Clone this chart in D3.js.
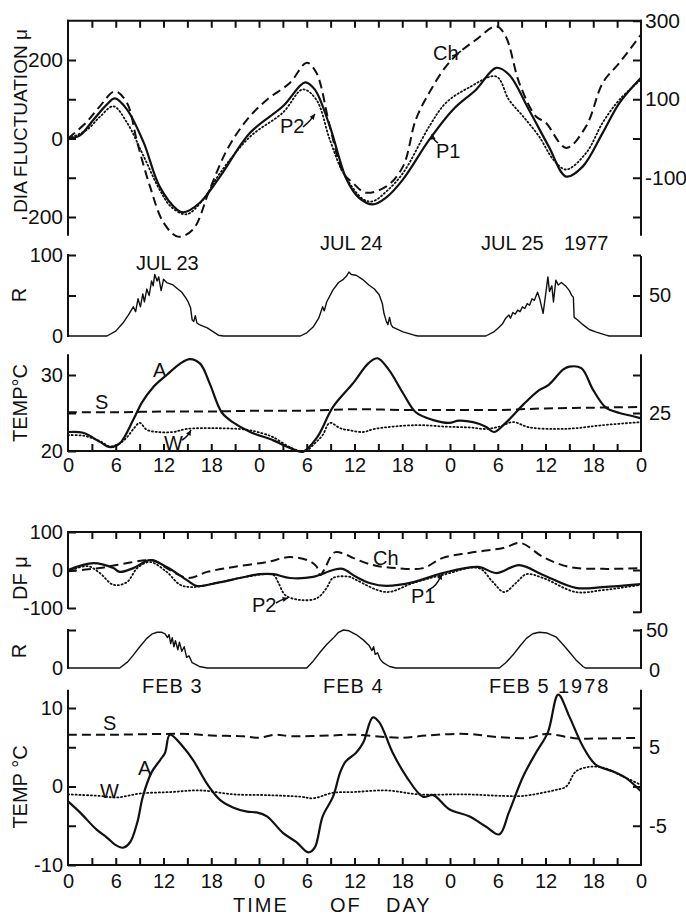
<!DOCTYPE html>
<html><head><meta charset="utf-8">
<script src="https://cdn.jsdelivr.net/npm/d3@7"></script>
<style>body{margin:0;background:#fff} svg{display:block}</style>
</head><body><svg id="c" width="686" height="915"></svg>
<script>
// ---------------- DATA ----------------
const hourTicks = d3.range(0, 73, 3);
const hourLabels = ["0","6","12","18","0","6","12","18","0","6","12","18","0"];

// July 1977 — dia fluctuation (μ)  [hour, value]
const julP1 = [[0,0],[1.5,8],[3.2,48],[4.9,87],[5.9,102],[7.4,74],[9.5,-10],[11.5,-122],[13.7,-181],[14.5,-188],[16.6,-163],[19.1,-97],[22.9,15],[27,82],[29.8,143],[31,125],[32.9,31],[35,-104],[36.5,-150],[38.3,-168],[40,-150],[42.1,-104],[45.4,-3],[48.4,74],[51.3,125],[53.8,180],[55.4,163],[57.9,74],[60.4,-20],[62.6,-97],[64.7,-71],[67.2,15],[69.3,91],[72,155]];
const julCh = [[0,0],[2.3,41],[4,82],[5.9,120],[7.4,91],[8.7,-10],[10.3,-122],[12,-214],[13.8,-250],[15.7,-232],[17.8,-130],[20,-28],[22.5,48],[25,99],[27.9,142],[30,193],[31.2,168],[32.9,31],[34.6,-88],[35.8,-113],[37.4,-138],[40,-122],[42.1,-71],[43.7,48],[45.4,117],[47.5,184],[49.1,218],[51.3,252],[53.8,286],[55,260],[56.7,142],[58.8,56],[60,41],[62.6,-24],[65.1,31],[67.2,142],[69.3,193],[72,265]];
const julP2 = [[0,0],[2.3,21],[4,55],[5.7,82],[7.4,41],[9.5,-45],[11.5,-130],[13,-175],[14.9,-193],[17,-155],[19.1,-88],[22.9,5],[27,66],[29.5,125],[31.2,99],[32.9,-3],[34.6,-88],[37.1,-155],[38.3,-160],[40,-135],[42.1,-88],[45.4,31],[47.5,91],[50.4,130],[53.8,158],[55.4,99],[57.2,56],[59.2,5],[61,-54],[62.6,-79],[65.1,-37],[67.2,41],[69.3,99],[72,150]];
// July radiation R
const julR = [[0,0],[4.9,0],[6,6],[6.9,16],[7.6,26],[8.2,36],[8.5,30],[8.8,46],[9.1,36],[9.4,52],[9.6,42],[9.9,58],[10.2,50],[10.5,68],[10.7,62],[10.9,76],[11.2,68],[11.4,73],[11.7,56],[12.0,70],[12.4,66],[13.2,63],[13.8,58],[14.3,54],[14.8,47],[15.1,42],[15.4,35],[15.6,20],[15.8,18],[16.0,25],[16.2,16],[16.5,14],[17.5,10],[18.9,1],[19.5,0],[29.2,0],[30,4],[30.8,11],[31.5,22],[32,36],[32.2,31],[32.5,42],[33.3,57],[34,66],[34.6,70],[35.0,74],[35.3,79],[35.6,76],[36.2,75],[37,70],[37.8,63],[38.5,58],[39.1,51],[39.5,40],[39.7,28],[40.0,18],[40.2,14],[40.4,23],[40.6,14],[40.8,11],[42.1,5],[43.5,1],[44,0],[52.5,0],[53.5,5],[54.2,11],[54.6,15],[55,22],[55.4,26],[55.6,22],[55.9,29],[56.2,27],[56.5,32],[56.8,30],[57.1,36],[57.4,34],[57.7,40],[58.0,38],[58.3,46],[58.6,44],[59.0,54],[59.3,45],[59.7,28],[60.0,50],[60.3,73],[60.5,55],[60.8,62],[61.0,42],[61.3,69],[61.6,63],[62,66],[62.6,61],[63.0,56],[63.3,50],[63.5,48],[63.6,23],[64,20],[64.7,14],[65.5,8],[66.3,5],[67.6,1],[68,0],[72,0]];
// July temperatures (°C)
const julA = [[0,22.5],[1.9,22.4],[4,21.2],[5.3,20.5],[6.5,21],[8.2,24.1],[9.3,26.4],[10.7,28.4],[12.4,30],[14.1,31.5],[15.3,32.1],[16.6,31.5],[17.8,28.9],[19.3,25.1],[20.7,23.8],[22.9,22.5],[25.8,21.4],[27.9,20.4],[29.5,19.9],[31.3,21.8],[33.3,25.8],[35.8,28.9],[37.8,31.6],[38.9,32.2],[40.3,30.7],[42.1,27.6],[43.7,25.1],[45.8,24.1],[47.9,23.7],[49.1,24],[50.9,23.8],[52.5,23.2],[53.5,22.5],[55,23.7],[57.2,26.1],[59.2,28],[60.4,28.7],[62.2,30.7],[63,31.1],[64.5,30.9],[66,28],[67.6,25.7],[69.3,25],[70.5,24.7],[72,24.3]];
const julS = [[0,25.1],[6,25.1],[12,25.2],[18,25.2],[24,25.3],[30,25.3],[36,25.5],[42,25.4],[48,25.4],[54,25.4],[60,25.6],[66,25.7],[72,25.8]];
const julW = [[0,22.1],[2,22],[4,21.3],[5.3,20.6],[6.5,21],[7.4,21.8],[8.3,23],[9,23.7],[9.9,22.8],[11.2,22.5],[13.2,22.5],[14.9,22.9],[18.7,23],[22.4,22.8],[24.5,22.3],[25.8,21.8],[27.9,20.5],[29.7,19.9],[31,21],[32,22.1],[32.9,23.7],[34.2,23],[35.5,22.7],[37.1,22.5],[38.5,22.9],[43.7,23.4],[47.5,23.2],[50.4,23.1],[52.5,22.9],[54.2,23.2],[55.9,23.8],[58,23.1],[61.3,22.9],[63.8,23],[67.2,23.4],[72,23.8]];

// February 1978 — DF (μ)
const febP1 = [[0,0],[3.2,18],[5.7,5],[6.5,-5],[8.2,5],[10.3,26],[12.4,8],[14.9,-26],[16.2,-42],[18.7,-34],[21.6,-21],[24.1,-11],[25.8,-11],[27.9,-21],[30.8,-18],[33.3,0],[34.5,3],[36.2,-18],[38,-35],[40,-42],[43.4,-32],[47.1,-8],[51.6,8],[53.8,-8],[56.7,13],[59.7,-13],[63.8,-47],[67.2,-45],[72,-37]];
const febCh = [[0,-3],[4,5],[6.1,13],[9.9,26],[11,24],[12.4,5],[15.1,-21],[17.5,-5],[20.8,8],[25,21],[27.9,34],[30.3,24],[31.2,10],[31.7,-13],[32.3,5],[33,35],[33.6,47],[35,40],[35.8,32],[38.3,13],[41.2,5],[44.6,5],[47.1,32],[50.4,45],[54.7,58],[56.9,71],[59.7,34],[63,8],[67.2,3],[72,5]];
const febP2 = [[0,-3],[2.5,10],[4,-8],[5.7,-39],[7.4,-32],[8.7,5],[10.3,21],[12.4,-5],[14.1,-39],[15.7,-45],[18.7,-34],[22.9,-16],[25.8,-13],[26.4,-32],[27.3,-66],[29.2,-79],[31.3,-74],[32.5,-47],[33.3,-21],[35.4,-18],[36.2,-26],[40,-58],[43.4,-34],[47.1,-13],[51.6,5],[53.4,-32],[54.8,-58],[56.3,-34],[57.6,-11],[59.7,-21],[63.8,-58],[67.2,-53],[72,-39]];
// February radiation R
const febR = [[0,0],[6.5,0],[7.5,8],[8.2,17],[9.1,29],[9.9,39],[10.6,45],[11.2,47],[11.8,47],[12.2,45],[12.5,40],[12.7,44],[12.9,32],[13.1,40],[13.3,28],[13.5,36],[13.8,24],[14.0,34],[14.3,22],[14.6,28],[14.9,14],[15.2,16],[15.6,7],[16.5,2],[17.5,0],[30,0],[30.8,9],[31.7,21],[32.5,31],[33.3,39],[34.0,47],[34.6,50],[35.3,49],[36.2,44],[37.1,37],[37.8,30],[38.2,23],[38.4,28],[38.6,18],[38.9,20],[39.2,12],[39.6,7],[40.4,2],[41.2,0],[54.2,0],[55,7],[55.9,17],[56.8,29],[57.6,39],[58.4,45],[59.2,47],[60.2,46],[61.3,41],[62.2,31],[63,21],[63.8,11],[64.7,2],[65,0],[72,0]];
// February temperatures (°C)
const febA = [[0,-1.9],[1.5,-3.3],[3.6,-5.5],[4.9,-6.5],[5.9,-7.4],[6.9,-7.8],[7.8,-7.1],[8.7,-4.6],[9.4,-1.3],[10.5,1.8],[11.6,3.4],[12.2,4.3],[12.8,6.6],[14.5,5],[15.7,3.4],[17.5,0.3],[19.1,-1.7],[20.8,-2.7],[22.5,-3.2],[23.7,-3.3],[25,-3.8],[27,-5.9],[28.7,-7.1],[30.2,-8.4],[31,-7.8],[32,-3.8],[33.3,-1.3],[34.2,1.8],[34.9,3.2],[36.2,4.3],[37.1,5.6],[38.3,8.8],[39.1,8.2],[40.8,4.3],[42.5,1.3],[44.6,-1.3],[45.9,-1.1],[47.9,-2.9],[50.4,-3.8],[52.5,-5.1],[54.2,-6.1],[55.4,-3.3],[57.2,1.3],[58.8,4.3],[60.3,6.9],[61.6,11.7],[63,8.9],[64.7,5.1],[66.3,2.8],[68.5,1.9],[70.1,1.1],[71.8,-0.4],[72,-0.6]];
const febS = [[0,6.6],[6,6.6],[12,6.7],[15,6.7],[18,6.5],[22,6.4],[24,6.2],[26,6.6],[28,6.4],[33,6.5],[36,6.6],[42,6.2],[45,6.5],[50,6.7],[54,6.3],[58,6.2],[60,6.7],[64,6.1],[66,6.1],[72,6.2]];
const febW = [[0,-1],[4,-1.2],[6.1,-1.4],[9,-0.9],[13,-0.7],[16.6,-0.5],[20.8,-1],[25,-1.1],[29.2,-1.3],[30.8,-1.5],[33.3,-0.8],[36,-0.7],[40,-0.5],[44.1,-1],[50,-1],[54.7,-1.2],[57.2,-1.2],[61,-0.5],[62.6,0],[63.8,1.9],[65.5,2.5],[67.2,2.4],[69.7,1.3],[71.8,0.3],[72,0.2]];

// ---------------- DRAWING ----------------
const INK = "#111";
const FONT = '"Liberation Sans", Arial, sans-serif';
const svg = d3.select("#c").style("font-family", FONT);

const x = d3.scaleLinear().domain([0, 72]).range([68, 641]);
const XL = x(0), XR = x(72);

const yDia = d3.scaleLinear().domain([-200, 200]).range([217, 60]);
const yR1 = d3.scaleLinear().domain([0, 100]).range([336, 255]);
const yT1 = d3.scaleLinear().domain([20, 30]).range([451, 375]);
const yDF = d3.scaleLinear().domain([-100, 100]).range([608, 532]);
const yR2 = d3.scaleLinear().domain([0, 50]).range([668, 630]);
const yT2 = d3.scaleLinear().domain([-10, 10]).range([865, 708]);

function vline(xp, y0, y1) {
  svg.append("line").attr("x1", xp).attr("x2", xp).attr("y1", y0).attr("y2", y1)
    .attr("stroke", INK).attr("stroke-width", 2).attr("stroke-linecap", "square");
}
function hline(yp) {
  svg.append("line").attr("x1", XL).attr("x2", XR).attr("y1", yp).attr("y2", yp)
    .attr("stroke", INK).attr("stroke-width", 2).attr("stroke-linecap", "square");
}
function styleAxis(g, fs) {
  g.select(".domain").remove();
  g.selectAll(".tick line").attr("stroke", INK).attr("stroke-width", 2);
  g.selectAll(".tick text").attr("fill", INK).attr("font-size", fs).attr("font-family", FONT);
}
function leftAxis(scale, ticks, labels, top, bottom, fs = 20) {
  const g = svg.append("g").attr("transform", `translate(${XL},0)`)
    .call(d3.axisLeft(scale).tickValues(ticks).tickSizeInner(-8).tickSizeOuter(0).tickPadding(5)
      .tickFormat(d => labels.includes(d) ? String(d) : ""));
  styleAxis(g, fs);
  vline(XL, scale(top), scale(bottom));
  return g;
}
function rightAxis(scale, ticks, labels, top, bottom, fs = 20, pad = 7) {
  const g = svg.append("g").attr("transform", `translate(${XR},0)`)
    .call(d3.axisRight(scale).tickValues(ticks).tickSizeInner(-8).tickSizeOuter(0).tickPadding(pad)
      .tickFormat(d => labels.includes(d) ? String(d) : ""));
  styleAxis(g, fs);
  vline(XR, scale(top), scale(bottom));
  return g;
}
function topBorder(yp) {
  const g = svg.append("g").attr("transform", `translate(0,${yp})`)
    .call(d3.axisTop(x).tickValues(hourTicks.slice(1, -1)).tickSizeInner(-7).tickSizeOuter(0).tickFormat(""));
  styleAxis(g, 10);
  hline(yp);
}
function bottomAxis(yp, pad) {
  const g = svg.append("g").attr("transform", `translate(0,${yp})`)
    .call(d3.axisBottom(x).tickValues(hourTicks).tickSizeInner(-7).tickSizeOuter(0).tickPadding(pad)
      .tickFormat((d) => d % 6 === 0 ? hourLabels[d / 6] : ""));
  styleAxis(g, 20);
  g.selectAll(".tick").filter(d => d === 0 || d === 72).select("line").remove();
  hline(yp);
}

const smooth = d3.curveCatmullRom.alpha(0.5);
function series(data, yScale, style, curve = smooth) {
  const line = d3.line().x(d => x(d[0])).y(d => yScale(d[1])).curve(curve);
  const p = svg.append("path").datum(data).attr("d", line).attr("fill", "none")
    .attr("stroke", INK).attr("stroke-linejoin", "round");
  if (style === "solid") p.attr("stroke-width", 2.2);
  if (style === "dash") p.attr("stroke-width", 2).attr("stroke-dasharray", "9,5");
  if (style === "dot") p.attr("stroke-width", 1.8).attr("stroke-dasharray", "1.2,2.6").attr("stroke-linecap", "round");
  if (style === "thin") p.attr("stroke-width", 1.4);
}
function label(txt, xp, yp, fs = 20, anchor = "start", ls = 0) {
  svg.append("text").attr("x", xp).attr("y", yp).attr("font-size", fs).attr("text-anchor", anchor)
    .attr("letter-spacing", ls).attr("fill", INK).text(txt);
}
function vlabel(txt, xp, yc, fs = 20, ls = 0) {
  svg.append("text").attr("transform", `translate(${xp},${yc}) rotate(-90)`).attr("font-size", fs)
    .attr("text-anchor", "middle").attr("letter-spacing", ls).attr("fill", INK).text(txt);
}
function leader(pts, arrow) {
  svg.append("path").attr("d", d3.line().curve(d3.curveBasis)(pts)).attr("fill", "none")
    .attr("stroke", INK).attr("stroke-width", 1.5);
  if (arrow) {
    const [a, b] = [pts[pts.length - 2], pts[pts.length - 1]];
    const ang = Math.atan2(b[1] - a[1], b[0] - a[0]);
    const L = 6, w = 0.45;
    svg.append("path").attr("d", `M${b[0]},${b[1]}L${b[0] - L * Math.cos(ang - w)},${b[1] - L * Math.sin(ang - w)}L${b[0] - L * Math.cos(ang + w)},${b[1] - L * Math.sin(ang + w)}Z`)
      .attr("fill", INK);
  }
}

// ===== Panel 1: DIA fluctuation (July) =====
topBorder(yDia(300));
leftAxis(yDia, [200, 100, 0, -100, -200], [200, 0, -200], 300, -245, 21);
rightAxis(yDia, [300, 200, 100, 0, -100, -200], [300, 100, -100], 300, -245, 21, 4);
series(julP2, yDia, "dot");
series(julCh, yDia, "dash");
series(julP1, yDia, "solid");
vlabel("DIA FLUCTUATION μ", 27, 121, 19);
label("Ch", 433, 60, 20);
leader([[452, 56], [456, 55], [461, 51]]);
label("P2", 280, 133, 20);
leader([[303, 127], [309, 122], [315, 114]], true);
label("P1", 436, 158, 20);
leader([[438, 143], [433, 139], [432, 134]], true);

// date labels July
label("JUL 23", 136, 270, 20);
label("JUL 24", 320, 250, 20);
label("JUL 25", 481, 250, 20);
label("1977", 564, 250, 20);

// ===== Panel 2: R (July) =====
leftAxis(yR1, [100, 50], [100], 100, 0, 20);
label("0", 63, yR1(0) + 7, 20, "end");
rightAxis(yR1, [100, 50], [50], 97.5, 0, 20, 8);
series(julR, yR1, "thin", d3.curveLinear);
vlabel("R", 26, 295, 20);

// ===== Panel 3: Temp (July) =====
bottomAxis(yT1(20), 7);
leftAxis(yT1, [30, 25, 20], [30, 20], 32.6, 20, 20);
rightAxis(yT1, [30, 25], [25], 32.6, 20, 20, 8);
series(julW, yT1, "dot");
series(julS, yT1, "dash");
series(julA, yT1, "solid");
vlabel("TEMP°C", 27, 403, 20);
label("A", 153, 377, 20);
label("S", 95, 409, 20);
label("W", 164, 450, 20);
leader([[182, 440], [187, 437], [191, 430]], true);

// ===== Panel 4: DF (Feb) =====
topBorder(yDF(100));
leftAxis(yDF, [100, 0, -100], [100, 0, -100], 100, -100, 20);
rightAxis(yDF, [0, -110], [], 100, -110, 20);
series(febP2, yDF, "dot");
series(febCh, yDF, "dash");
series(febP1, yDF, "solid");
vlabel("DF μ", 27, 578, 20);
label("Ch", 373, 565, 20);
label("P2", 252, 612, 20);
leader([[276, 603], [281, 600], [288, 598]], true);
label("P1", 411, 603, 20);
leader([[428, 590], [436, 586], [442, 574]], true);

// ===== Panel 5: R (Feb) =====
leftAxis(yR2, [50], [], 50, 0, 20);
label("0", 63, yR2(0) + 7, 20, "end");
rightAxis(yR2, [50], [50], 50, 0, 20, 5);
label("0", 649, yR2(0) + 9, 20, "start");
series(febR, yR2, "thin", d3.curveLinear);
vlabel("R", 26, 651, 20);

// date labels Feb
label("FEB 3", 142, 693, 20, "start", 1);
label("FEB 4", 323, 693, 20, "start", 1);
label("FEB 5", 489, 693, 20, "start", 1);
label("1978", 558, 693, 20, "start", 2);

// ===== Panel 6: Temp (Feb) =====
bottomAxis(yT2(-10), 9);
leftAxis(yT2, [10, 5, 0, -5, -10], [10, 0, -10], 12.2, -10, 20);
rightAxis(yT2, [10, 5, 0, -5], [5, -5], 12.2, -10, 20, 8);
series(febW, yT2, "dot");
series(febS, yT2, "dash");
series(febA, yT2, "solid");
vlabel("TEMP °C", 27, 787, 20);
label("S", 103, 730, 20);
label("A", 138, 775, 20);
label("W", 100, 798, 20);

// axis title
label("TIME", 233, 912, 20, "start", 2);
label("OF", 330, 912, 20, "start", 2);
label("DAY", 386, 912, 20, "start", 2);
</script></body></html>
